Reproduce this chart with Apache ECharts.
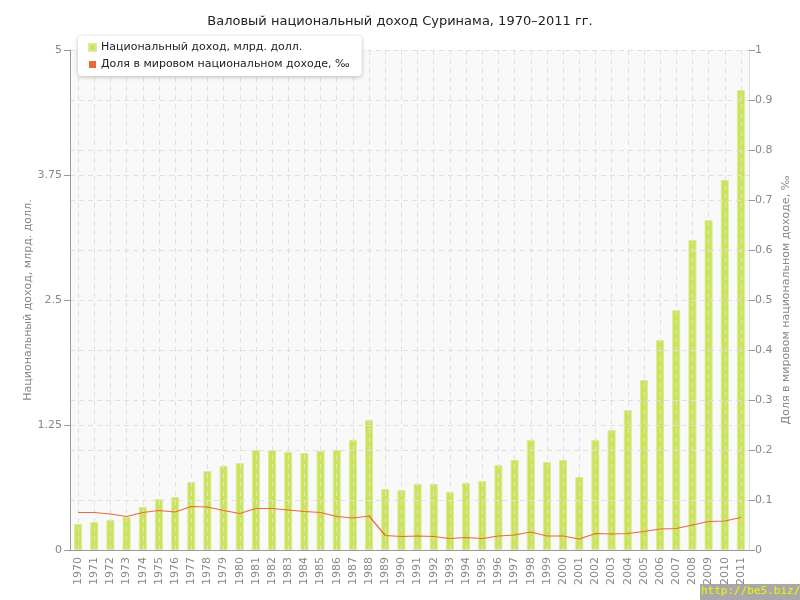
<!DOCTYPE html>
<html><head><meta charset="utf-8">
<script src="https://cdn.jsdelivr.net/npm/echarts@6/dist/echarts.min.js"></script>
<style>html,body{margin:0;padding:0;background:#fff}#c{width:800px;height:600px}</style>
</head><body><div id="c"></div>
<script>
const years = ['1970','1971','1972','1973','1974','1975','1976','1977','1978','1979','1980','1981','1982','1983','1984','1985','1986','1987','1988','1989','1990','1991','1992','1993','1994','1995','1996','1997','1998','1999','2000','2001','2002','2003','2004','2005','2006','2007','2008','2009','2010','2011'];
const incomeBn = [0.26,0.28,0.30,0.33,0.43,0.51,0.53,0.68,0.79,0.84,0.87,1.00,1.00,0.98,0.97,0.99,1.00,1.10,1.30,0.61,0.60,0.66,0.66,0.58,0.67,0.69,0.85,0.90,1.10,0.88,0.90,0.73,1.10,1.20,1.40,1.70,2.10,2.40,3.10,3.30,3.70,4.60];
const worldShare = [0.075,0.075,0.072,0.067,0.075,0.079,0.076,0.087,0.086,0.079,0.073,0.083,0.083,0.080,0.077,0.075,0.067,0.064,0.068,0.029,0.027,0.028,0.027,0.023,0.025,0.023,0.028,0.030,0.036,0.028,0.028,0.022,0.033,0.032,0.033,0.037,0.042,0.043,0.050,0.057,0.058,0.065];
const leftTicks = [0,1.25,2.5,3.75,5];
const titleText = 'Валовый национальный доход Суринама, 1970–2011 гг.';
const seriesNames = ['Национальный доход, млрд. долл.','Доля в мировом национальном доходе, ‰'];

const F = 'DejaVu Sans, Verdana, sans-serif';
const chart = echarts.init(document.getElementById('c'));
chart.setOption({
  animation:false,
  textStyle:{fontFamily:F},
  title:{text:titleText,left:'center',top:10,textStyle:{fontFamily:F,fontSize:13,fontWeight:'normal',color:'#222'}},
  legend:{orient:'vertical',left:78,top:36,itemWidth:7,itemHeight:7,itemGap:6,icon:'rect',
    padding:[6,12,6,10],backgroundColor:'#fff',borderRadius:4,shadowColor:'rgba(0,0,0,0.25)',shadowBlur:4,shadowOffsetY:1,
    textStyle:{fontFamily:F,fontSize:11,color:'#222'},data:seriesNames},
  grid:{left:70,right:49,top:50,bottom:50,show:true,backgroundColor:'#f9f9f9',borderWidth:0},
  xAxis:{type:'category',data:years,boundaryGap:true,z:3,
    axisLine:{lineStyle:{color:'#999'}},
    axisTick:{alignWithLabel:true,length:5,lineStyle:{color:'#999'}},
    axisLabel:{rotate:90,interval:0,fontSize:11,color:'#888',margin:7,fontFamily:F},
    splitLine:{show:true,alignWithLabel:true,interval:0,lineStyle:{color:'#e0e0e0',type:[5,4]}}},
  yAxis:[
    {type:'value',min:0,max:5,interval:1.25,z:3,name:seriesNames[0],nameLocation:'middle',nameGap:36,nameMoveOverlap:false,
     nameTextStyle:{fontSize:11,color:'#888',fontFamily:F},
     axisLine:{show:true,lineStyle:{color:'#999'}},axisTick:{show:true,length:6,lineStyle:{color:'#999'}},
     axisLabel:{fontSize:11,color:'#888',margin:8,formatter:v=>String(v)},
     splitLine:{lineStyle:{color:'#e0e0e0',type:[5,4]}}},
    {type:'value',min:0,max:1,interval:0.1,z:3,name:seriesNames[1],nameLocation:'middle',nameGap:32,nameMoveOverlap:false,
     nameTextStyle:{fontSize:11,color:'#888',fontFamily:F},
     axisLine:{show:true,lineStyle:{color:'#ddd'}},axisTick:{show:true,length:6,lineStyle:{color:'#999'}},
     axisLabel:{fontSize:11,color:'#888',margin:6,formatter:v=>String(Math.round(v*10)/10)},
     splitLine:{lineStyle:{color:'#e0e0e0',type:[5,4]}}}
  ],
  series:[
    {name:seriesNames[0],type:'bar',yAxisIndex:0,data:incomeBn,barWidth:8,z:2,
     itemStyle:{color:'rgba(194,224,60,0.88)',borderColor:'#dbeb9c',borderWidth:1}},
    {name:seriesNames[1],type:'line',yAxisIndex:1,data:worldShare,symbol:'none',z:5,
     lineStyle:{color:'#e8693c',width:1.2},itemStyle:{color:'#e8693c'}}
  ],
  graphic:[{type:'group',left:700,top:584,children:[
    {type:'rect',shape:{x:0,y:0,width:100,height:16},style:{fill:'#a8a8a8'}},
    {type:'text',x:1,y:2,style:{text:'http://be5.biz/',fill:'#f5f500',font:'11px DejaVu Sans Mono, monospace'}}
  ]}]
});
</script></body></html>
